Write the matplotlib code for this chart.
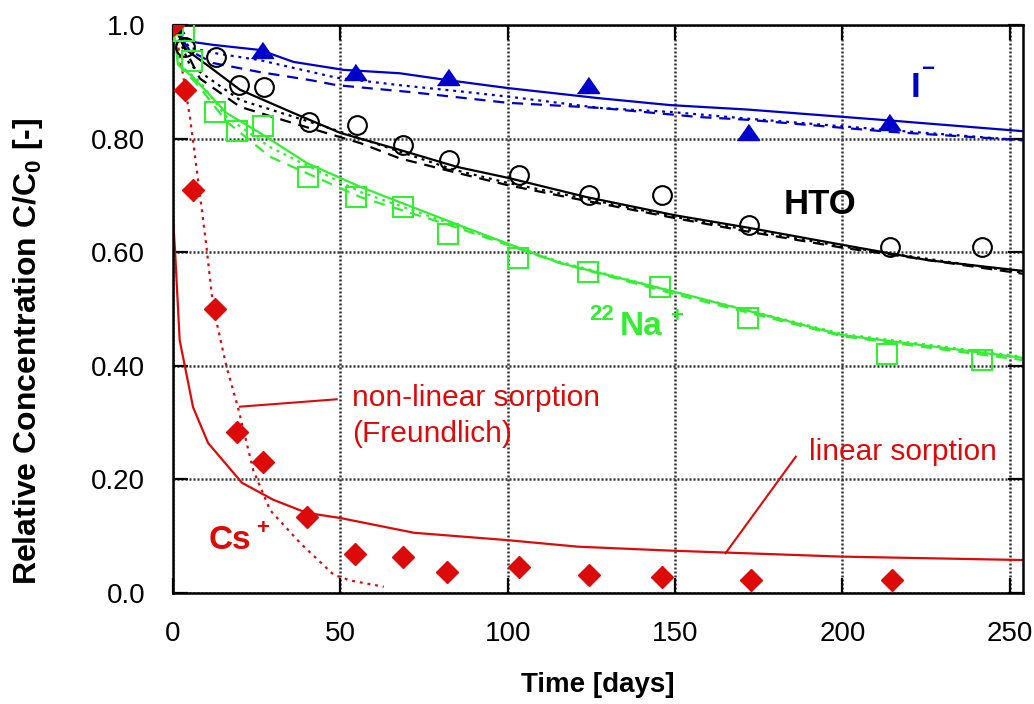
import matplotlib
matplotlib.use("Agg")
import matplotlib.pyplot as plt

plt.rcParams["font.family"] = ["Liberation Sans", "DejaVu Sans"]
plt.rcParams["mathtext.fontset"] = "custom"
plt.rcParams["mathtext.bf"] = "Liberation Sans:bold"
plt.rcParams["mathtext.rm"] = "Liberation Sans"

BLUE = "#0000CC"
RED = "#DD0A0A"
GREEN = "#33EE33"

# measured data (time in days, relative concentration)
t_I = [0, 26.7, 54.4, 82.1, 124.0, 171.7, 213.9]
c_I = [1.0, 0.956, 0.918, 0.909, 0.894, 0.812, 0.829]

t_HTO = [0, 3.6, 12.8, 19.7, 27.2, 40.6, 55.0, 68.7, 82.4, 103.3, 124.3,
         146.0, 172.0, 214.2, 241.6]
c_HTO = [1.0, 0.961, 0.944, 0.894, 0.891, 0.829, 0.824, 0.789, 0.762,
         0.736, 0.700, 0.700, 0.648, 0.609, 0.609]

t_Na = [0, 3.3, 5.7, 12.5, 19.1, 26.9, 40.3, 54.7, 68.7, 82.1, 103.0,
        124.0, 145.5, 171.7, 213.3, 241.6]
c_Na = [1.0, 0.99, 0.937, 0.847, 0.813, 0.822, 0.732, 0.697, 0.680, 0.632,
        0.590, 0.565, 0.539, 0.484, 0.421, 0.410]

t_Cs = [0, 3.6, 6.0, 12.5, 19.1, 26.9, 40.0, 54.4, 68.7, 81.8, 103.3,
        124.4, 146.1, 172.8, 214.9]
c_Cs = [1.0, 0.886, 0.710, 0.500, 0.283, 0.231, 0.134, 0.069, 0.064,
        0.037, 0.045, 0.032, 0.028, 0.023, 0.023]

# model curves
mI_solid_t = [0, 2, 6, 12, 26, 36, 51, 67.8, 82, 100, 127.5, 148.5, 172, 214, 254]
mI_solid_c = [1.0, 0.98, 0.97, 0.965, 0.956, 0.935, 0.921, 0.915, 0.903,
              0.889, 0.871, 0.859, 0.851, 0.832, 0.813]
mI_dot_t = [0, 5, 13, 26, 49, 67.8, 86, 100, 127.5, 148.5, 172, 214, 254]
mI_dot_c = [1.0, 0.96, 0.95, 0.938, 0.907, 0.894, 0.883, 0.874, 0.854,
            0.847, 0.835, 0.815, 0.797]
mI_dash_t = [0, 5, 12, 26, 41, 49, 70.8, 100, 127.5, 157, 172, 214, 254]
mI_dash_c = [1.0, 0.955, 0.933, 0.917, 0.903, 0.894, 0.882, 0.863, 0.854,
             0.838, 0.833, 0.812, 0.797]

mH_solid_t = [0, 4, 11, 20, 36, 50, 67.8, 85, 100, 123.6, 150, 172, 200, 225.5, 254]
mH_solid_c = [1.0, 0.956, 0.926, 0.886, 0.845, 0.810, 0.780, 0.750, 0.731,
              0.697, 0.665, 0.643, 0.613, 0.586, 0.567]
mH_dash_t = [0, 8, 20, 36, 56, 67.8, 84, 100, 117.7, 150, 172, 200, 254]
mH_dash_c = [1.0, 0.906, 0.856, 0.827, 0.792, 0.765, 0.741, 0.718, 0.697,
             0.660, 0.636, 0.608, 0.562]
mH_dot_t = [0, 5, 20, 46, 84, 100, 150, 200, 254]
mH_dot_c = [1.0, 0.93, 0.868, 0.820, 0.745, 0.722, 0.662, 0.610, 0.564]

mN_solid_t = [0, 1.5, 6, 16, 26, 40, 56, 84, 100, 115.6, 150, 200, 254]
mN_solid_c = [1.0, 0.93, 0.908, 0.845, 0.810, 0.757, 0.715, 0.651, 0.615,
              0.581, 0.530, 0.454, 0.414]
mN_dash_t = [0, 2, 8, 16, 29, 56, 84, 115, 150, 200, 254]
mN_dash_c = [1.0, 0.93, 0.89, 0.830, 0.768, 0.697, 0.645, 0.582, 0.526,
             0.452, 0.410]
mN_dot_t = [0, 2, 8, 16, 29, 56, 84, 115, 150, 200, 254]
mN_dot_c = [1.0, 0.93, 0.90, 0.838, 0.785, 0.706, 0.648, 0.584, 0.530,
            0.456, 0.416]

mC_lin_t = [0, 0.6, 2, 6, 10.5, 20.6, 30, 40, 50, 72, 100, 121, 149, 200, 254]
mC_lin_c = [0.66, 0.604, 0.445, 0.327, 0.264, 0.194, 0.164, 0.141, 0.132,
            0.106, 0.093, 0.0815, 0.0745, 0.064, 0.058]
mC_fr_t = [0, 2, 3.6, 5, 7, 10, 12, 16, 19.4, 24, 29, 38, 48, 53, 63]
mC_fr_c = [1.0, 0.95, 0.89, 0.84, 0.75, 0.61, 0.504, 0.398, 0.327, 0.216,
           0.146, 0.088, 0.032, 0.022, 0.011]

fig = plt.figure(figsize=(10.34, 7.04), dpi=100)
ax = fig.add_axes([0.1673, 0.1577, 0.8221, 0.8068])

lw = 1.6
dashed = (0, (5, 3.5))
dotted = (0, (1.3, 2.2))

ax.plot(mI_solid_t, mI_solid_c, color=BLUE, lw=lw)
ax.plot(mI_dash_t, mI_dash_c, color=BLUE, lw=lw, ls=dashed)
ax.plot(mI_dot_t, mI_dot_c, color=BLUE, lw=lw, ls=dotted)

ax.plot(mH_solid_t, mH_solid_c, color="k", lw=lw)
ax.plot(mH_dash_t, mH_dash_c, color="k", lw=lw, ls=dashed)
ax.plot(mH_dot_t, mH_dot_c, color="k", lw=lw, ls=dotted)

ax.plot(mN_solid_t, mN_solid_c, color=GREEN, lw=lw)
ax.plot(mN_dash_t, mN_dash_c, color=GREEN, lw=lw, ls=dashed)
ax.plot(mN_dot_t, mN_dot_c, color=GREEN, lw=lw, ls=dotted)

ax.plot(mC_lin_t, mC_lin_c, color=RED, lw=lw)
ax.plot(mC_fr_t, mC_fr_c, color=RED, lw=lw, ls=dotted)

tri = [(-1, -0.72), (1, -0.72), (0, 0.72)]
ax.plot(t_I, c_I, ls="none", marker=tri, ms=16, color=BLUE, zorder=5)
ax.plot(t_HTO, c_HTO, ls="none", marker="o", ms=13.5, mfc="none",
        mec="k", mew=1.5, zorder=5)
ax.plot(t_Na, c_Na, ls="none", marker="s", ms=14, mfc="none",
        mec=GREEN, mew=1.5, zorder=5)
ax.plot(t_Cs, c_Cs, ls="none", marker="D", ms=11, color=RED, zorder=6)

# species labels
bold = dict(fontweight="bold", fontsize=25)
ax.text(220.5, 0.873, "I", color=BLUE, ha="left", va="baseline", **bold)
ax.text(223.4, 0.921, "\u2212", color=BLUE, ha="left", va="center",
        fontsize=16, fontweight="bold")
ax.text(193.3, 0.684, "HTO", color="k", ha="center", va="center", **bold)
ax.text(124.5, 0.48, "22", color=GREEN, ha="left", va="baseline",
        fontsize=16, fontweight="bold")
ax.text(133.5, 0.455, "Na", color=GREEN, ha="left", va="baseline",
        fontsize=24, fontweight="bold")
ax.text(148.5, 0.477, "+", color=GREEN, ha="left", va="baseline",
        fontsize=16, fontweight="bold")
ax.text(10.5, 0.077, "Cs", color=RED, ha="left", va="baseline",
        fontsize=24, fontweight="bold")
ax.text(24.8, 0.104, "+", color=RED, ha="left", va="baseline",
        fontsize=16, fontweight="bold")

# annotations
ax.plot([20.0, 48.9], [0.328, 0.341], color=RED, lw=1.5)
ax.text(53.4, 0.343, "non-linear sorption", color=RED, fontsize=21.5,
        ha="left", va="center")
ax.text(53.4, 0.280, "(Freundlich)", color=RED, fontsize=21.5,
        ha="left", va="center")
ax.plot([165.1, 186.1], [0.070, 0.240], color=RED, lw=1.5)
ax.text(190.0, 0.249, "linear sorption", color=RED, fontsize=21.5,
        ha="left", va="center")

ax.set_xlim(0, 254)
ax.set_ylim(0, 1.0)
ax.set_xticks([0, 50, 100, 150, 200, 250])
ax.set_yticks([0, 0.2, 0.4, 0.6, 0.8, 1.0])
ax.set_yticklabels(["0.0", "0.20", "0.40", "0.60", "0.80", "1.0"])
ax.tick_params(direction="in", length=11, width=1.6, labelsize=20,
               top=True, right=True, pad=20)
ax.grid(True, color="#333333", lw=1.8, ls=(0, (0.8, 0.8)))
for s in ax.spines.values():
    s.set_linewidth(1.8)

ax.set_xlabel("Time [days]", fontsize=20, fontweight="bold", labelpad=18)
ax.set_ylabel(r"Relative Concentration C/C$_\mathbf{0}$ [-]", fontsize=23,
              fontweight="bold")
ax.yaxis.set_label_coords(-0.150, 0.426)

fig.savefig("out.png", dpi=100)
